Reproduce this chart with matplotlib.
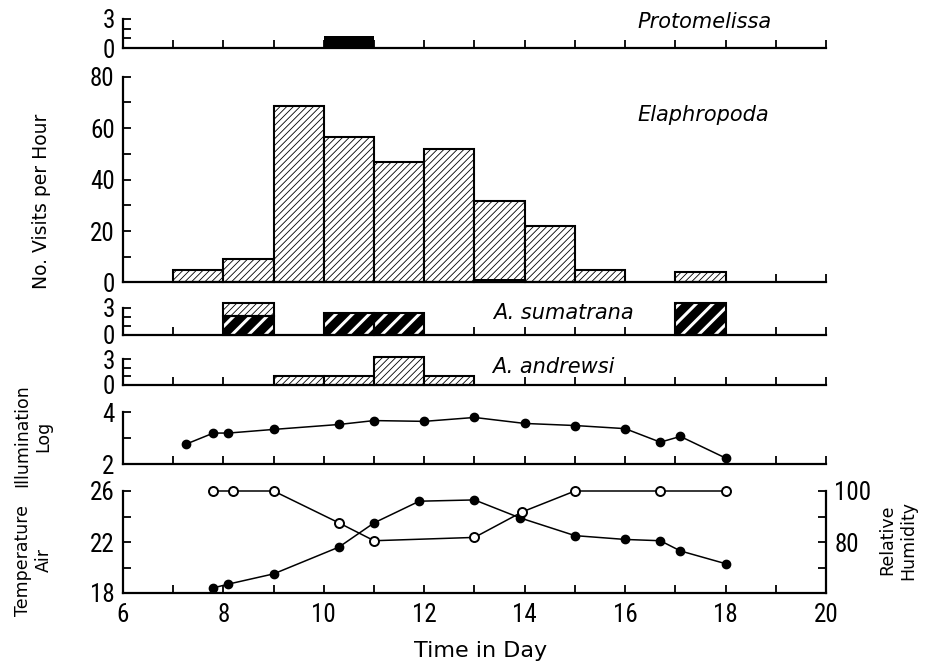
import numpy as np
import matplotlib
matplotlib.use("Agg")
import matplotlib.pyplot as plt
from matplotlib import font_manager

# ---- data ----
hours = np.arange(6, 21)

proto_start = [10]
proto_vals = [1.2]

elaph_start = [7, 8, 9, 10, 11, 12, 13, 14, 15, 17]
elaph_vals = [4.7, 9.0, 68.8, 56.4, 46.9, 51.8, 31.6, 21.8, 5.0, 4.0]
elaph_dark_start = [13]
elaph_dark_vals = [1.5]

sum_dark_start = [8, 10, 11, 17]
sum_dark_vals = [2.1, 2.4, 2.4, 3.5]
sum_light_start = [8]
sum_light_vals = [1.4]          # stacked on the dark part

andr_start = [9, 10, 11, 12]
andr_vals = [1.0, 1.05, 3.3, 1.1]

illum_t = [7.25, 7.8, 8.1, 9.0, 10.3, 11.0, 12.0, 13.0, 14.0, 15.0, 16.0, 16.7, 17.1, 18.0]
illum = [2.76, 3.19, 3.19, 3.33, 3.52, 3.67, 3.64, 3.79, 3.56, 3.48, 3.36, 2.84, 3.06, 2.23]

temp_t = [7.8, 8.1, 9.0, 10.3, 11.0, 11.9, 13.0, 13.9, 15.0, 16.0, 16.7, 17.1, 18.0]
temp = [18.4, 18.7, 19.5, 21.6, 23.5, 25.2, 25.3, 23.9, 22.5, 22.2, 22.1, 21.3, 20.3]

rh_t = [7.8, 8.2, 9.0, 10.3, 11.0, 13.0, 13.95, 15.0, 16.7, 18.0]
rh = [100, 100, 100, 87.5, 80.5, 81.8, 91.8, 100, 100, 100]

# narrow face for tick numbers if one is around
names = {f.name for f in font_manager.fontManager.ttflist}
narrow = [n for n in ["Liberation Sans Narrow", "Roboto Condensed", "DejaVu Sans Condensed"] if n in names]
tick_font = (narrow[:1] or []) + ["DejaVu Sans"]
tick_size = 18 if narrow else 14

plt.rcParams["font.family"] = ["DejaVu Sans"]
plt.rcParams["hatch.linewidth"] = 0.6

W, H = 925, 661
fig = plt.figure(figsize=(W / 100, H / 100), dpi=100)


def panel(top, bottom):
    # pixel rows -> axes box
    return fig.add_axes([123 / W, 1 - bottom / H, 703 / W, (bottom - top) / H])


def set_tick_font(labels):
    for lab in labels:
        lab.set_family(tick_font)
        lab.set_fontsize(tick_size)


def style(ax, ylim, major, minor, bottom_labels=False):
    ax.set_xlim(6, 20)
    ax.set_ylim(*ylim)
    for s in ["top", "right"]:
        ax.spines[s].set_visible(False)
    for s in ["left", "bottom"]:
        ax.spines[s].set_linewidth(1.6)
    ax.set_xticks(hours)
    if bottom_labels:
        ax.set_xticklabels([str(h) if h % 2 == 0 else "" for h in hours])
    else:
        ax.set_xticklabels([])
    ax.set_yticks(major)
    ax.set_yticks(minor, minor=True)
    ax.tick_params(axis="x", direction="in", length=6, width=1.3, pad=7)
    ax.tick_params(axis="y", which="both", direction="in", length=6, width=1.3, pad=6)
    set_tick_font(ax.get_xticklabels() + ax.get_yticklabels())


def light_bars(ax, x, h, bottom=0):
    ax.bar(x, h, width=1, bottom=bottom, align="edge", facecolor="white",
           edgecolor="black", hatch="/////", linewidth=1.5, clip_on=False, zorder=2)


def dark_bars(ax, x, h, hatch="//"):
    with plt.rc_context({"hatch.linewidth": 2.2}):
        bars = ax.bar(x, h, width=1, align="edge", facecolor="black",
                      edgecolor="white", hatch=hatch, linewidth=0, clip_on=False, zorder=2)
    for b in bars:
        if hasattr(b, "set_hatch_linewidth"):
            b.set_hatch_linewidth(2.2)
    ax.bar(x, h, width=1, align="edge", facecolor="none", edgecolor="black",
           linewidth=1.5, clip_on=False, zorder=3)


# Protomelissa
ax1 = panel(19, 48)
style(ax1, (0, 3), [0, 3], [1, 2])
ax1.bar(proto_start, proto_vals, width=1, align="edge", color="black", clip_on=False)

# Elaphropoda
ax2 = panel(76.7, 282.5)
style(ax2, (0, 80), [0, 20, 40, 60, 80], np.arange(10, 80, 20))
light_bars(ax2, elaph_start, elaph_vals)
ax2.bar(elaph_dark_start, elaph_dark_vals, width=1, align="edge", color="black", zorder=3)

# A. sumatrana
ax3 = panel(307.7, 335)
style(ax3, (0, 3), [0, 3], [1, 2])
dark_bars(ax3, sum_dark_start, sum_dark_vals)
light_bars(ax3, sum_light_start, sum_light_vals, bottom=sum_dark_vals[0])

# A. andrewsi
ax4 = panel(359.3, 385)
style(ax4, (0, 3), [0, 3], [1, 2])
light_bars(ax4, andr_start, andr_vals)

# Log illumination
ax5 = panel(412, 464)
style(ax5, (2, 4), [2, 4], [3])
ax5.plot(illum_t, illum, color="black", lw=1.1, marker="o", ms=6, clip_on=False)

# Air temperature and relative humidity
ax6 = panel(491, 593)
style(ax6, (18, 26), [18, 22, 26], [20, 24], bottom_labels=True)
ax6.plot(temp_t, temp, color="black", lw=1.1, marker="o", ms=6, clip_on=False)
ax7 = ax6.twinx()
ax7.set_ylim(60, 100)
for s in ["top", "left", "bottom"]:
    ax7.spines[s].set_visible(False)
ax7.spines["right"].set_linewidth(1.6)
ax7.set_yticks([80, 100])
ax7.set_yticks([70, 90], minor=True)
ax7.tick_params(axis="y", which="both", direction="in", length=6, width=1.3, pad=6)
set_tick_font(ax7.get_yticklabels())
ax7.plot(rh_t, rh, color="black", lw=1.1, marker="o", ms=6.5, mfc="white",
         mew=1.4, clip_on=False, zorder=3)

# species names
sp = dict(fontsize=15, style="italic", ha="left", va="center")
fig.text(637 / W, 1 - 22 / H, "Protomelissa", **sp)
fig.text(637 / W, 1 - 115 / H, "Elaphropoda", **sp)
fig.text(493 / W, 1 - 313 / H, "A. sumatrana", **sp)
fig.text(492 / W, 1 - 367 / H, "A. andrewsi", **sp)

# axis titles
lab = dict(fontsize=12.5, ha="center", va="center", rotation=90, linespacing=1.2)
fig.text(42 / W, 1 - 201 / H, "No. Visits per Hour", fontsize=13.5, ha="center",
         va="center", rotation=90)
fig.text(33 / W, 1 - 436 / H, "Illumination\nLog", **lab)
fig.text(33 / W, 1 - 560 / H, "Temperature\nAir", **lab)
fig.text(898 / W, 1 - 540 / H, "Relative\nHumidity", **lab)
fig.text(481 / W, 1 - 651 / H, "Time in Day", fontsize=16, ha="center", va="center")

fig.savefig("out.png", dpi=100)
